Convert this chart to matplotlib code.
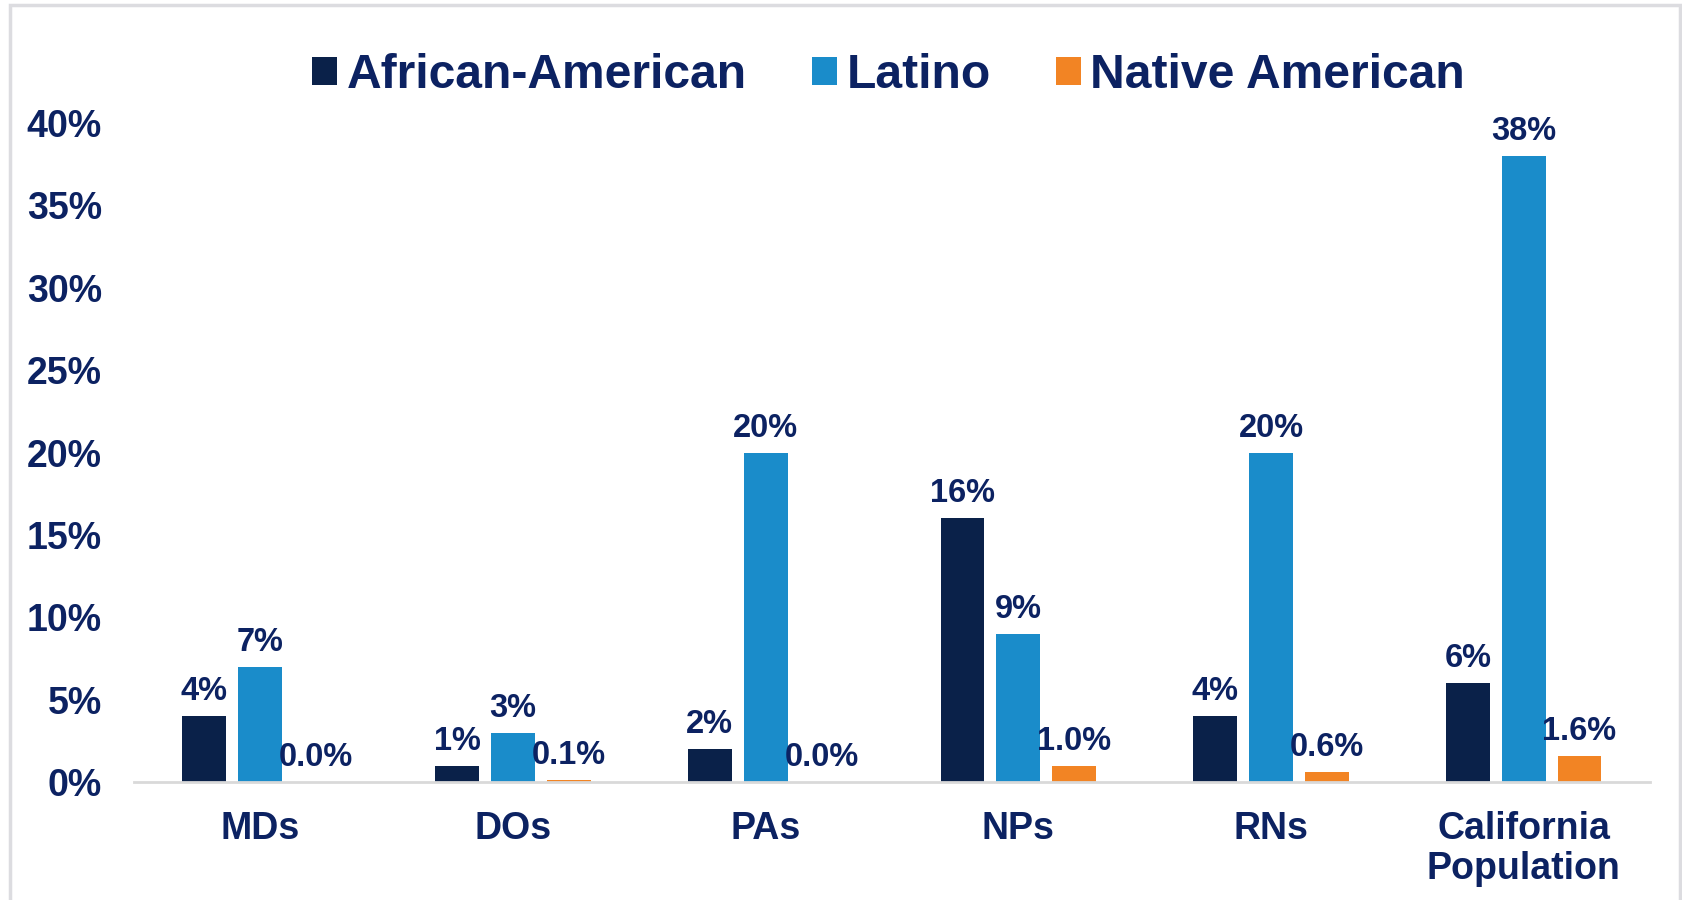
import matplotlib.pyplot as plt
import numpy as np
from matplotlib.patches import Patch, Rectangle

plt.rcParams['font.family'] = ['Liberation Sans', 'DejaVu Sans']
plt.rcParams['font.weight'] = 'bold'

# data (percent)
categories = ["MDs", "DOs", "PAs", "NPs", "RNs", "California\nPopulation"]
series_names = ["African-American", "Latino", "Native American"]
african_american = [4, 1, 2, 16, 4, 6]
latino = [7, 3, 20, 9, 20, 38]
native_american = [0.0, 0.1, 0.0, 1.0, 0.6, 1.6]
yticks = [0, 5, 10, 15, 20, 25, 30, 35, 40]

colors = ["#0A2149", "#1A8CCA", "#F28424"]
text_col = "#0C2262"
label_fmt = ["{:.0f}%", "{:.0f}%", "{:.1f}%"]

fig = plt.figure(figsize=(16.83, 9), dpi=100)
fig.patch.set_facecolor('white')

# light gray frame round the chart
fig.add_artist(Rectangle((10/1683, -0.05), 1670/1683, 1.05 - 5/900,
                         transform=fig.transFigure, fill=False,
                         edgecolor="#DCDCE0", linewidth=2.5))

ax = fig.add_axes([0.0796, 0.1311, 0.9008, 0.7322])

x = np.arange(len(categories))
width = 0.174
step = 0.221
all_series = [african_american, latino, native_american]

for i, vals in enumerate(all_series):
    pos = x + (i - 1) * step
    ax.bar(pos, vals, width, color=colors[i], label=series_names[i], zorder=2)
    for px, v in zip(pos, vals):
        ax.annotate(label_fmt[i].format(v), (px, v), xytext=(0, 11.5),
                    textcoords='offset points', ha='center', va='baseline',
                    fontsize=23.5, fontweight='bold', color=text_col)

ax.set_xlim(-0.5, len(categories) - 0.5)
ax.set_ylim(0, 40)
ax.set_yticks(yticks)
ax.set_yticklabels([f"{t}%" for t in yticks])
ax.set_xticks(x)
ax.set_xticklabels(categories, linespacing=1.15)

for s in ['top', 'right', 'left']:
    ax.spines[s].set_visible(False)
ax.spines['bottom'].set_color("#D9D9D9")
ax.spines['bottom'].set_linewidth(2)
ax.tick_params(axis='both', length=0, labelsize=27, colors=text_col)
ax.tick_params(axis='y', pad=23)
ax.tick_params(axis='x', pad=21)
for lab in ax.get_xticklabels() + ax.get_yticklabels():
    lab.set_fontweight('bold')

handles = [Patch(facecolor=c, edgecolor='none') for c in colors]
leg = fig.legend(handles, series_names, loc='center', bbox_to_anchor=(0.528, 0.916),
                 ncol=3, frameon=False, fontsize=34.6, handlelength=0.52,
                 handleheight=0.52, handletextpad=0.2, columnspacing=1.35)
for t in leg.get_texts():
    t.set_color(text_col)
    t.set_fontweight('bold')

fig.savefig("out.png", dpi=100, facecolor='white')
